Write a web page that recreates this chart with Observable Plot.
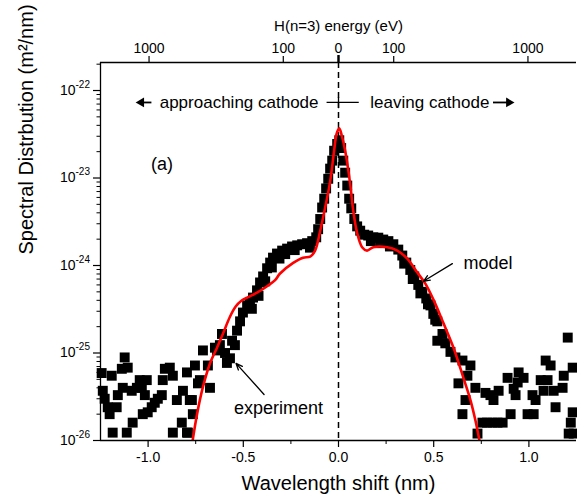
<!DOCTYPE html>
<html><head><meta charset="utf-8">
<script src="https://cdn.jsdelivr.net/npm/d3@7"></script>
<script src="https://cdn.jsdelivr.net/npm/@observablehq/plot@0.6"></script>
<style>body{margin:0;background:#fff} svg{display:block}</style>
</head><body><div id="chart"></div>
<script>
// Experiment: wavelength shift (nm), spectral distribution (m^2/nm)
const experimentNoiseLeft = [
[-1.244,5.9e-26],[-1.238,3.7e-26],[-1.228,3.0e-26],[-1.212,2.4e-26],[-1.202,2.0e-26],[-1.186,1.23e-26],[-1.191,5.5e-26],[-1.165,2.4e-26],[-1.159,3.3e-26],[-1.138,6.6e-26],[-1.123,8.9e-26],[-1.133,4.0e-26],[-1.107,6.8e-26],[-1.112,1.23e-26],[-1.086,3.7e-26],[-1.081,1.6e-26],[-1.059,4.0e-26],[-1.044,4.9e-26],[-1.033,4.0e-26],[-1.017,3.3e-26],[-1.007,4.9e-26],[-1.028,2.0e-26],[-1.002,2.1e-26],[-0.981,2.4e-26],[-0.965,2.7e-26],[-0.949,3.0e-26],[-0.923,4.9e-26],[-0.928,3.3e-26],[-0.912,6.6e-26],[-0.886,6.8e-26],[-0.870,5.5e-26],[-0.849,2.9e-26],[-0.870,1.23e-26],[-0.823,1.6e-26],[-0.817,3.7e-26],[-0.796,6.0e-26],[-0.781,2.9e-26],[-0.765,2.0e-26],[-0.754,7.2e-26],[-0.738,4.5e-26],[-0.796,1.23e-26],[-0.791,1.23e-26]
];
const experimentBand = [
[-0.728,4.9e-26],[-0.712,1.07e-25],[-0.770,2.9e-26],[-0.686,7.2e-26],[-0.675,4.0e-26],[-0.649,1.15e-25],[-0.638,1.07e-25],[-0.623,1.23e-25],[-0.612,1.65e-25],[-0.596,1.0e-25],[-0.586,7.7e-26],[-0.570,8.7e-26],[-0.559,1.38e-25],[-0.544,1.23e-25],[-0.533,1.8e-25],[-0.517,2.3e-25],[-0.502,2.9e-25],[-0.480,3.5e-25],[-0.465,3.8e-25],[-0.449,4.3e-25],[-0.428,5.2e-25],[-0.412,6.4e-25],[-0.396,7.5e-25],[-0.375,9.3e-25],[-0.359,1.08e-24],[-0.344,1.23e-24],[-0.323,1.37e-24],[-0.296,1.48e-24],[-0.270,1.56e-24],[-0.244,1.65e-24],[-0.217,1.70e-24],[-0.191,1.75e-24],[-0.165,1.8e-24],[-0.138,1.9e-24],[-0.117,2.1e-24],[-0.107,2.6e-24],[-0.096,3.4e-24],[-0.086,4.6e-24],[-0.075,5.8e-24],[-0.065,7.6e-24],[-0.054,9.8e-24],[-0.044,1.28e-23],[-0.033,1.58e-23],[-0.023,2.05e-23],[-0.007,2.45e-23],[0.004,2.7e-23],[0.014,2.2e-23],[0.025,1.58e-23],[0.035,1.15e-23],[0.046,8.2e-24],[0.056,5.8e-24],[0.067,4.5e-24],[0.083,3.4e-24],[0.098,2.8e-24],[0.114,2.5e-24],[0.135,2.25e-24],[0.156,2.2e-24],[0.183,2.1e-24],[0.209,2.08e-24],[0.235,1.98e-24],[0.262,1.9e-24],[0.288,1.75e-24],[0.314,1.52e-24],[0.335,1.30e-24],[0.356,1.08e-24],[0.377,8.9e-25],[0.398,7.5e-25],[0.419,6.0e-25],[0.440,5.0e-25],[0.461,4.2e-25],[0.483,3.5e-25],[0.498,2.8e-25],[0.519,2.3e-25],[0.519,1.38e-25],[0.546,1.65e-25],[0.561,1.29e-25],[0.588,1.03e-25],[0.614,8.9e-26],[0.651,8.2e-26],[0.630,4.5e-26],[0.667,2.9e-26],[0.651,2.0e-26],[0.677,5.5e-26],[0.693,7.2e-26]
];
const experimentBandLower = [
[-0.455,3.2e-25],[-0.42,4.5e-25],[-0.385,6.6e-25],[-0.35,9.5e-25],[-0.31,1.2e-24],[-0.28,1.35e-24],[-0.23,1.5e-24],[-0.15,1.6e-24],[0.17,1.9e-24],[0.22,1.8e-24],[0.27,1.65e-24],[0.345,1.05e-24],[0.39,7.0e-25],[0.43,4.8e-25],[0.47,3.6e-25],[0.508,2.4e-25]
];
const experimentNoiseRight = [
[0.719,4.0e-26],[0.730,1.2e-26],[0.756,1.6e-26],[0.772,3.5e-26],[0.78,1.6e-26],[0.798,3.3e-26],[0.814,2.9e-26],[0.809,1.6e-26],[0.835,1.6e-26],[0.862,1.6e-26],[0.841,3.7e-26],[0.888,5.2e-26],[0.904,2.0e-26],[0.920,3.9e-26],[0.941,4.6e-26],[0.930,3.3e-26],[0.946,6.0e-26],[0.972,5.2e-26],[0.993,2.0e-26],[1.019,3.3e-26],[1.035,2.9e-26],[1.025,2.0e-26],[1.062,4.9e-26],[1.077,3.7e-26],[1.098,4.9e-26],[1.088,8.2e-26],[1.114,7.2e-26],[1.130,3.7e-26],[1.140,2.4e-26],[1.177,4.0e-26],[1.183,5.5e-26],[1.204,1.5e-25],[1.230,6.8e-26],[1.230,2.1e-26],[1.220,1.6e-26],[1.209,1.2e-26],[1.235,1.2e-26]
];
// Model curve
const model = [
[-0.766,1.0e-26],[-0.743,2.0e-26],[-0.712,4.1e-26],[-0.675,7.6e-26],[-0.638,1.15e-25],[-0.607,1.66e-25],[-0.570,2.6e-25],[-0.540,3.4e-25],[-0.510,3.95e-25],[-0.480,4.3e-25],[-0.428,4.9e-25],[-0.375,5.8e-25],[-0.333,6.8e-25],[-0.307,8.1e-25],[-0.238,1.07e-24],[-0.186,1.23e-24],[-0.149,1.26e-24],[-0.123,1.48e-24],[-0.096,2.5e-24],[-0.070,4.6e-24],[-0.044,9.1e-24],[-0.023,2.05e-23],[-0.010,3.2e-23],[0.004,3.7e-23],[0.018,3.0e-23],[0.035,2.05e-23],[0.061,8.7e-24],[0.077,4.3e-24],[0.098,2.35e-24],[0.124,1.62e-24],[0.150,1.48e-24],[0.183,1.62e-24],[0.256,1.62e-24],[0.309,1.48e-24],[0.361,1.2e-24],[0.414,8.3e-25],[0.456,6.2e-25],[0.498,4.1e-25],[0.551,2.2e-25],[0.604,1.15e-25],[0.656,5.2e-26],[0.693,2.9e-26],[0.719,1.7e-26],[0.740,1.0e-26]
];
const xDomain = [-1.25, 1.25];
const yDomain = [1e-26, 2.09e-22];
const xTicks = [-1, -0.5, 0, 0.5, 1];
const xMinorTicks = [-0.75, -0.25, 0.25, 0.75];
const yDecades = [1e-26, 1e-25, 1e-24, 1e-23, 1e-22];
const yDecadeExponents = ["-26", "-25", "-24", "-23", "-22"];
const yMinorTicks = yDecades.slice(0, 4).flatMap(d => [2,3,4,5,6,7,8,9].map(k => k * d)).concat([2e-22]);
const topTickPos = [-0.995, -0.29, 0, 0.29, 0.995];
const topTickLabels = ["1000", "100", "0", "100", "1000"];

// annotations
const textNotes = [
  {x: -0.939, y: 7.3e-23, text: "approaching cathode", size: 17, anchor: "start"},
  {x: 0.167, y: 7.3e-23, text: "leaving cathode", size: 17, anchor: "start"},
  {x: -0.927, y: 1.43e-23, text: "(a)", size: 18, anchor: "middle"},
  {x: 0.656, y: 1.05e-24, text: "model", size: 18, anchor: "start"},
  {x: -0.549, y: 2.32e-26, text: "experiment", size: 18, anchor: "start"}
];
const arrowNotes = [
  {x1: 0.598, y1: 1.05e-24, x2: 0.446, y2: 6.6e-25},
  {x1: -0.391, y1: 3.36e-26, x2: -0.538, y2: 7.6e-26}
];
const shaftNotes = [
  {x1: -0.98, x2: -1.035, y: 7.3e-23},
  {x1: 0.814, x2: 0.89, y: 7.3e-23}
];
const headNotes = [
  {x: -1.036, y: 7.3e-23, rotate: -90},
  {x: 0.895, y: 7.3e-23, rotate: 90}
];
const dividerLine = [{x1: -0.06, x2: 0.109, y: 7.3e-23}];
const dividerTick = [{x: 0, y1: 6.2e-23, y2: 8.3e-23}];

const experiment = [...experimentNoiseLeft, ...experimentBand, ...experimentBandLower, ...experimentNoiseRight];
const font = "'Liberation Sans', Arial, Helvetica, sans-serif";

const plot = Plot.plot({
  width: 577, height: 502,
  marginLeft: 100, marginRight: 1, marginTop: 62, marginBottom: 62,
  style: {fontFamily: font, color: "#000", background: "#fff"},
  x: {domain: xDomain, label: null},
  y: {type: "log", domain: yDomain, label: null},
  marks: [
    Plot.ruleX([0], {stroke: "#000", strokeWidth: 1.5, strokeDasharray: "6,4"}),
    Plot.dot(experiment, {x: d => d[0], y: d => d[1], symbol: "square", r: 5.6, fill: "#000", stroke: "none"}),
    Plot.line(model, {x: d => d[0], y: d => d[1], stroke: "#ff0000", strokeWidth: 2.6, curve: "catmull-rom", clip: true}),
    // frame lines
    Plot.ruleX([xDomain[0]], {stroke: "#000", strokeWidth: 1.3}),
    Plot.ruleY([yDomain[0]], {stroke: "#000", strokeWidth: 1.3}),
    Plot.ruleY([yDomain[1]], {stroke: "#000", strokeWidth: 1.3}),
    // bottom axis
    Plot.axisX(xTicks, {anchor: "bottom", tickSize: 7, tickPadding: 5, fontSize: 14, tickFormat: d => d.toFixed(1), label: null, strokeWidth: 1.2}),
    Plot.axisX(xMinorTicks, {anchor: "bottom", tickSize: 4, tickFormat: () => "", label: null}),
    // top axis
    Plot.axisX(topTickPos, {anchor: "top", tickSize: 7, tickPadding: 3, fontSize: 14, tickFormat: d => topTickLabels[topTickPos.indexOf(d)], label: null, strokeWidth: 1.2}),
    Plot.axisX([0], {anchor: "top", tickSize: 8, tickFormat: () => "", label: null, strokeWidth: 2.4}),
    // left axis
    Plot.axisY(yDecades, {anchor: "left", tickSize: 7, tickFormat: () => "", label: null, strokeWidth: 1.2}),
    Plot.axisY(yMinorTicks, {anchor: "left", tickSize: 3.5, tickFormat: () => "", label: null}),
    Plot.text(yDecades, {y: d => d, frameAnchor: "left", dx: -25, text: () => "10", textAnchor: "end", fontSize: 14}),
    Plot.text(yDecades, {y: d => d, frameAnchor: "left", dx: -25, dy: -6, text: (d, i) => yDecadeExponents[i], textAnchor: "start", fontSize: 10}),
    // axis titles
    Plot.text(["Wavelength shift (nm)"], {frameAnchor: "bottom", dy: 49, fontSize: 20, text: d => d}),
    Plot.text(["H(n=3) energy (eV)"], {frameAnchor: "top", dy: -42, fontSize: 15, text: d => d}),
    Plot.text(["Spectral Distrbution (m\u00b2/nm)"], {frameAnchor: "left", dx: -74, dy: 3, rotate: -90, fontSize: 20, text: d => d}),
    // annotations
    Plot.ruleY(dividerLine, {x1: "x1", x2: "x2", y: "y", stroke: "#000", strokeWidth: 1.3}),
    Plot.ruleX(dividerTick, {x: "x", y1: "y1", y2: "y2", stroke: "#000", strokeWidth: 1.3}),
    Plot.ruleY(shaftNotes, {x1: "x1", x2: "x2", y: "y", stroke: "#000", strokeWidth: 1.8}),
    Plot.dot(headNotes, {x: "x", y: "y", symbol: "triangle", r: 3.6, rotate: "rotate", fill: "#000", stroke: "none"}),
    Plot.arrow(arrowNotes, {x1: "x1", y1: "y1", x2: "x2", y2: "y2", stroke: "#000", strokeWidth: 1.3, headLength: 8, headAngle: 45}),
    Plot.text(textNotes, {x: "x", y: "y", text: "text", fontSize: d => d.size, textAnchor: "start", filter: d => d.anchor === "start"}),
    Plot.text(textNotes, {x: "x", y: "y", text: "text", fontSize: d => d.size, textAnchor: "middle", filter: d => d.anchor === "middle"})
  ]
});
document.getElementById("chart").appendChild(plot);
</script>
</body></html>
